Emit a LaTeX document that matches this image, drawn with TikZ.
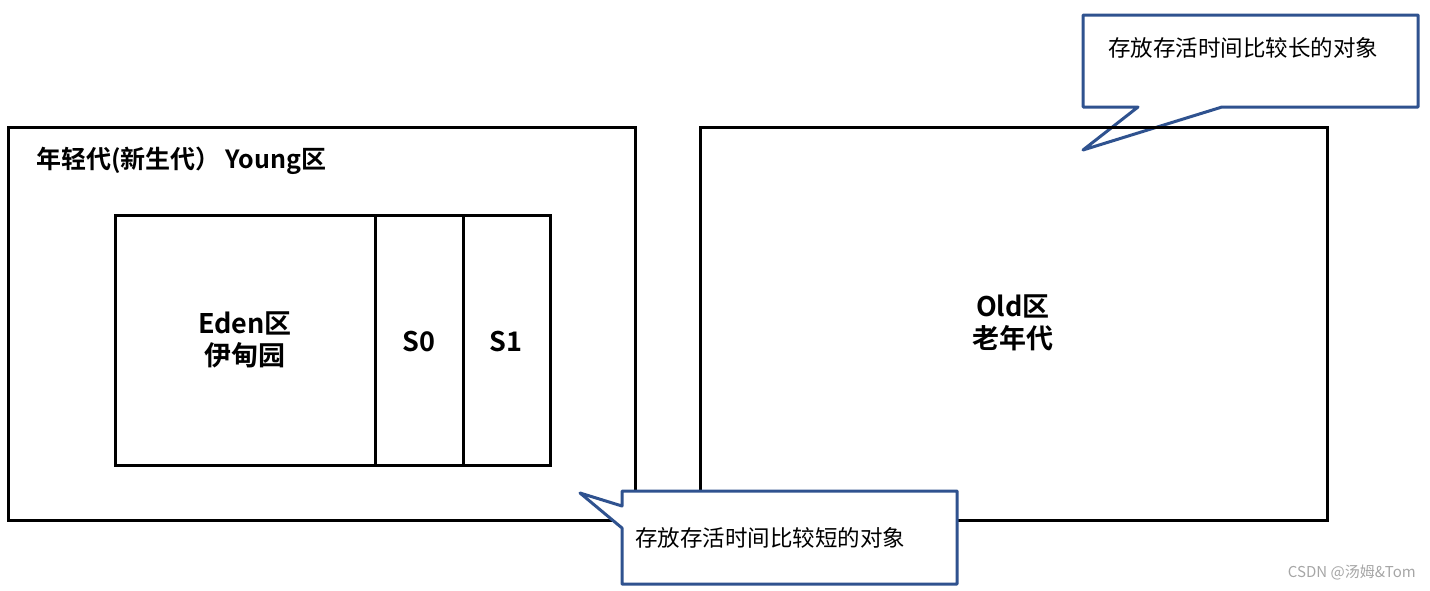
\documentclass[tikz,border=0pt]{standalone}
\usepackage{fontspec}
\setmainfont{Noto Sans CJK SC}
\newfontfamily\cjkb{Noto Sans CJK SC Bold}
\definecolor{callblue}{RGB}{47,82,143}
\begin{document}
\begin{tikzpicture}[x=1pt,y=-1pt,
  box/.style={draw=black,line width=3pt},
  callout/.style={draw=callblue,line width=3pt,fill=white,line join=round},
  lbl/.style={font=\cjkb\fontsize{27}{32}\selectfont,align=center,inner sep=0pt},
  ctext/.style={font=\fontsize{22.5}{27}\selectfont,anchor=west,inner sep=0pt}]
\useasboundingbox (0,0) rectangle (1430,590);
% top callout (behind Old box)
\draw[callout] (1083,15) -- (1418,15) -- (1418,107) -- (1222,107) -- (1083,150) -- (1138,107) -- (1083,107) -- cycle;
\node[ctext] (ctop) at (1108,48) {存放存活时间比较长的对象};
% young generation
\draw[box] (8,127) rectangle (635,520);
\node[font=\cjkb\fontsize{25}{30}\selectfont,anchor=west,inner sep=0pt] (ytitle) at (36,161) {年轻代(新生代）\hspace{0.2em}Young区};
\draw[box] (115,215) rectangle (375,465);
\draw[box] (375,215) rectangle (463,465);
\draw[box] (463,215) rectangle (550,465);
\node[lbl] (eden) at (245,340) {Eden区\\伊甸园};
\node[lbl] (s0) at (419,342) {S0};
\node[lbl] (s1) at (506,342) {S1};
% old generation
\draw[box] (700,127) rectangle (1327,520);
\node[lbl] (old) at (1013,323) {Old区\\老年代};
% bottom callout
\draw[callout] (622,491) -- (957,491) -- (957,584) -- (622,584) -- (622,528) -- (580,493) -- (622,506) -- cycle;
\node[ctext] (cbot) at (635,538) {存放存活时间比较短的对象};
% watermark
\node[font=\fontsize{15}{18}\selectfont,text=gray!70,anchor=east,inner sep=0pt] (wm) at (1416,572) {CSDN @汤姆\&Tom};
\end{tikzpicture}
\end{document}
